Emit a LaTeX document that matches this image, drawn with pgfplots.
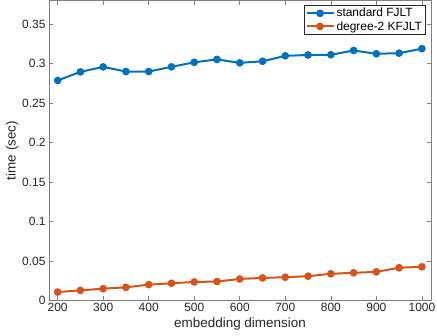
\documentclass[border=0pt]{standalone}
\usepackage{pgfplots}
\pgfplotsset{compat=1.18}
\usepackage{fontspec}
\setmainfont{Liberation Sans}
\definecolor{mBlue}{rgb}{0,0.447,0.741}
\definecolor{mOrange}{rgb}{0.85,0.325,0.098}
\definecolor{axgray}{rgb}{0.5,0.5,0.5}
\definecolor{txtgray}{rgb}{0.15,0.15,0.15}
\begin{document}
\begin{tikzpicture}
\begin{axis}[
    scale only axis,
    width=382bp, height=300bp,
    xmin=181, xmax=1020,
    ymin=0, ymax=0.38,
    xtick={200,300,...,1000},
    xticklabels={200,300,400,500,600,700,800,900,1000},
    ytick={0,0.05,0.1,0.15,0.2,0.25,0.3,0.35},
    yticklabels={0,0.05,0.1,0.15,0.2,0.25,0.3,0.35},
    xlabel={embedding dimension},
    ylabel={time (sec)},
    axis line style={axgray, line width=0.6bp},
    major tick style={axgray, line width=0.6bp},
    tick align=inside,
    major tick length=4bp,
    ticklabel style={font=\fontsize{12}{12}\selectfont, text=txtgray},
    label style={font=\fontsize{13.5}{13.5}\selectfont, text=txtgray},
    /pgf/number format/assume math mode=true,
    xticklabel style={yshift=1bp},
    xlabel style={yshift=1bp},
    ylabel style={yshift=-3bp},
    legend style={at={(0.985,0.985)}, anchor=north east, draw=txtgray,
        font=\fontsize{12}{13}\selectfont, inner sep=1bp, row sep=-1bp,
        line width=0.5bp},
    legend cell align=left,
    legend image code/.code={
        \draw[#1] (0cm,0cm) -- (0.95cm,0cm);
        \draw[#1, only marks] plot coordinates {(0.475cm,0cm)};
    },
]
\addplot[mBlue, line width=2bp, mark=*, mark size=2.8bp, mark options={solid, fill=mBlue}] coordinates {
(200,0.2787)(250,0.2896)(300,0.2959)(350,0.2900)(400,0.2900)(450,0.2960)
(500,0.3017)(550,0.3054)(600,0.3010)(650,0.3030)(700,0.3099)(750,0.3110)
(800,0.3112)(850,0.3167)(900,0.3125)(950,0.3133)(1000,0.3190)
};
\addplot[mOrange, line width=2bp, mark=*, mark size=2.8bp, mark options={solid, fill=mOrange}] coordinates {
(200,0.0107)(250,0.0128)(300,0.0150)(350,0.0167)(400,0.0201)(450,0.0218)
(500,0.0235)(550,0.0240)(600,0.0273)(650,0.0286)(700,0.0295)(750,0.0308)
(800,0.0338)(850,0.0351)(900,0.0363)(950,0.0415)(1000,0.0427)
};
\legend{standard FJLT, degree-2 KFJLT}
\end{axis}
\pgfresetboundingbox
\useasboundingbox (-49bp,-35bp) rectangle (388bp,300.5bp);
\end{tikzpicture}
\end{document}
